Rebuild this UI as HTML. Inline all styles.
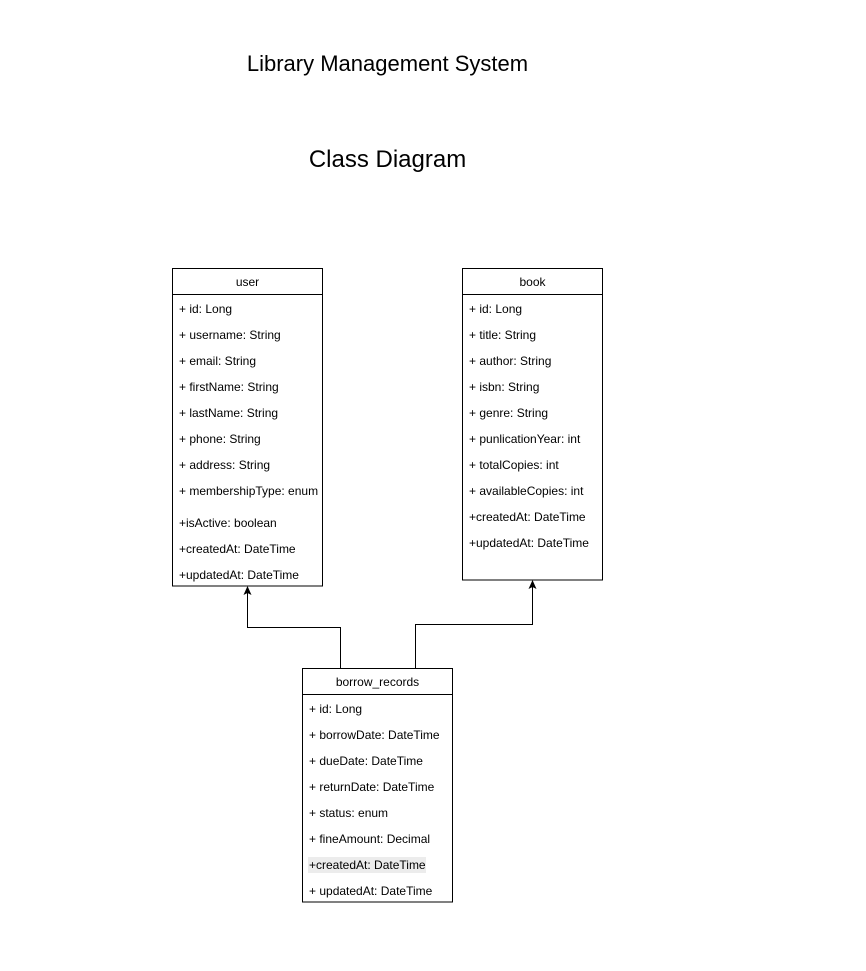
<!DOCTYPE html>
<html><head><meta charset="utf-8"><style>
html,body{margin:0;padding:0;background:#fff;}
svg text{font-family:"Liberation Sans",Arial,sans-serif;fill:#000;}
</style></head><body>
<svg width="866" height="966" viewBox="0 0 866 966" xmlns="http://www.w3.org/2000/svg">
<rect width="866" height="966" fill="#fff"/>
<text x="387.5" y="71" font-size="22" text-anchor="middle">Library Management System</text>
<text x="387.5" y="167" font-size="24" text-anchor="middle">Class Diagram</text>

<g fill="none" stroke="#000" stroke-width="1">
<rect x="172.5" y="268.5" width="150" height="317.5"/>
<line x1="172.5" y1="294.5" x2="322.5" y2="294.5"/>
<rect x="462.5" y="268.5" width="140" height="311.5"/>
<line x1="462.5" y1="294.5" x2="602.5" y2="294.5"/>
<rect x="302.5" y="668.5" width="150" height="233.5"/>
<line x1="302.5" y1="694.5" x2="452.5" y2="694.5"/>
<polyline points="340.5,668 340.5,627.5 247.5,627.5 247.5,592"/>
<polyline points="415.5,668 415.5,624.5 532.5,624.5 532.5,586"/>
</g>
<polygon points="247.5,586 243.5,595 247.5,593 251.5,595" fill="#000"/>
<polygon points="532.5,580 528.5,589 532.5,587 536.5,589" fill="#000"/>
<rect x="308" y="857" width="118" height="16" fill="#ececec"/>

<g font-size="12">
<text x="247.5" y="286" text-anchor="middle">user</text>
<text x="179" y="313">+ id: Long</text>
<text x="179" y="339">+ username: String</text>
<text x="179" y="365">+ email: String</text>
<text x="179" y="391">+ firstName: String</text>
<text x="179" y="417">+ lastName: String</text>
<text x="179" y="443">+ phone: String</text>
<text x="179" y="469">+ address: String</text>
<text x="179" y="495">+ membershipType: enum</text>
<text x="179" y="527">+isActive: boolean</text>
<text x="179" y="553">+createdAt: DateTime</text>
<text x="179" y="579">+updatedAt: DateTime</text>

<text x="532.5" y="286" text-anchor="middle">book</text>
<text x="469" y="313">+ id: Long</text>
<text x="469" y="339">+ title: String</text>
<text x="469" y="365">+ author: String</text>
<text x="469" y="391">+ isbn: String</text>
<text x="469" y="417">+ genre: String</text>
<text x="469" y="443">+ punlicationYear: int</text>
<text x="469" y="469">+ totalCopies: int</text>
<text x="469" y="495">+ availableCopies: int</text>
<text x="469" y="521">+createdAt: DateTime</text>
<text x="469" y="547">+updatedAt: DateTime</text>

<text x="377.5" y="686" text-anchor="middle">borrow_records</text>
<text x="309" y="713">+ id: Long</text>
<text x="309" y="739">+ borrowDate: DateTime</text>
<text x="309" y="765">+ dueDate: DateTime</text>
<text x="309" y="791">+ returnDate: DateTime</text>
<text x="309" y="817">+ status: enum</text>
<text x="309" y="843">+ fineAmount: Decimal</text>
<text x="309" y="869">+createdAt: DateTime</text>
<text x="309" y="895">+ updatedAt: DateTime</text>
</g>
</svg>
</body></html>
